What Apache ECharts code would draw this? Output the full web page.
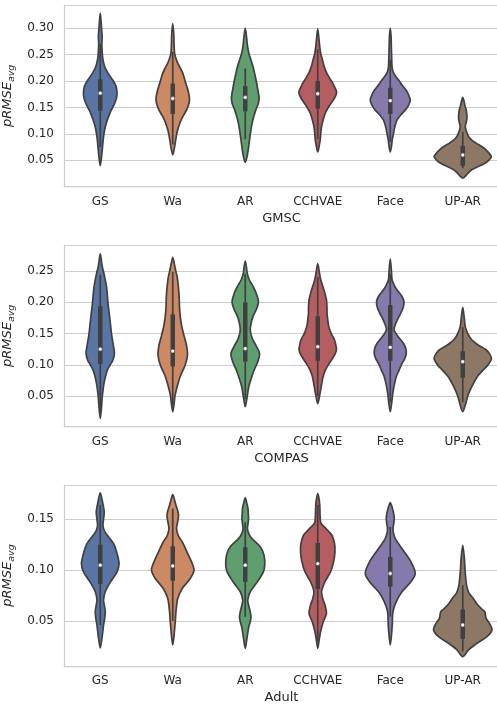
<!DOCTYPE html>
<html><head><meta charset="utf-8">
<script src="https://cdn.jsdelivr.net/npm/echarts@6/dist/echarts.min.js"></script>
<style>html,body{margin:0;padding:0;background:#fff}#c{width:497px;height:704px}</style>
</head><body><div id="c"></div>
<script>
// ---------------- DATA ----------------
const categories = ['GS', 'Wa', 'AR', 'CCHVAE', 'Face', 'UP-AR'];
const panelNames = ['GMSC', 'COMPAS', 'Adult'];
const yRanges = [[0, 0.344], [0.001, 0.2916], [0.0058, 0.1837]];

// Violin density profiles: [value, density] from bottom tip to top tip
const gmscGS = [[0.040,0],[0.055,1.2],[0.076,2.3],[0.090,3],[0.101,3.8],[0.113,5],[0.126,7],[0.136,9],[0.145,11],[0.158,14.5],[0.170,16.5],[0.180,16.7],[0.190,15.8],[0.202,12.5],[0.214,8],[0.227,4.5],[0.243,2.5],[0.259,1.8],[0.272,1.6],[0.285,1.9],[0.300,1.3],[0.315,0.7],[0.328,0]];
const gmscWa = [[0.060,0],[0.075,1.8],[0.089,3],[0.098,3.8],[0.107,4.8],[0.116,6.3],[0.126,8.3],[0.136,11],[0.145,13.7],[0.155,15.8],[0.164,16.7],[0.172,16.4],[0.184,15],[0.196,13],[0.206,11.5],[0.215,10],[0.225,7.5],[0.234,5],[0.245,2.8],[0.253,1.8],[0.270,1.3],[0.290,1],[0.309,0]];
const gmscAR = [[0.046,0],[0.057,1.8],[0.070,3],[0.089,4.3],[0.105,5.5],[0.120,6.8],[0.133,8.5],[0.145,10.5],[0.157,13],[0.167,13.8],[0.177,13.2],[0.190,12],[0.202,10.8],[0.215,9.3],[0.227,7.8],[0.238,6],[0.250,4],[0.260,2.8],[0.270,2],[0.280,1.5],[0.290,0.9],[0.300,0]];
const gmscCCHVAE = [[0.066,0],[0.078,1.5],[0.089,2.5],[0.101,3],[0.114,3.8],[0.126,5.3],[0.139,7.5],[0.150,10.5],[0.158,13.3],[0.167,16.5],[0.177,18.8],[0.183,18.3],[0.190,16.5],[0.196,15],[0.205,12],[0.215,9],[0.227,6.5],[0.240,4.7],[0.252,3],[0.265,2],[0.280,1.2],[0.299,0]];
const gmscFace = [[0.066,0],[0.078,1.3],[0.089,2],[0.101,3.3],[0.113,4.5],[0.126,6.7],[0.136,10.5],[0.145,15],[0.155,18.5],[0.164,20],[0.173,18.5],[0.183,15.8],[0.192,12],[0.202,8.3],[0.210,5],[0.218,2.7],[0.227,1.8],[0.245,1.4],[0.265,1.1],[0.285,0.8],[0.300,0]];
const gmscUPAR = [[0.016,0],[0.024,4.5],[0.032,9],[0.044,21.7],[0.050,26],[0.057,28.7],[0.064,26],[0.070,23],[0.076,19],[0.083,13],[0.089,8.5],[0.095,5.8],[0.104,3.8],[0.114,2.5],[0.122,3.5],[0.130,4.2],[0.138,4],[0.145,3.5],[0.155,2],[0.164,1],[0.169,0]];

const compasGS = [[0.014,0],[0.028,1],[0.049,2],[0.060,2.8],[0.070,3.7],[0.081,5.2],[0.092,7.3],[0.100,10],[0.107,12.5],[0.118,14.2],[0.132,13],[0.150,11.2],[0.172,9.7],[0.198,7.8],[0.225,6.2],[0.246,3.7],[0.255,2.3],[0.262,1.5],[0.278,0]];
const compasWa = [[0.025,0],[0.040,1.5],[0.051,2.3],[0.067,4.7],[0.083,7.8],[0.099,12.3],[0.115,14.7],[0.131,13.8],[0.147,11.2],[0.163,8.8],[0.185,7],[0.212,6.3],[0.238,4.7],[0.250,3],[0.262,1.5],[0.272,0]];
const compasAR = [[0.033,0],[0.045,1.5],[0.055,2.5],[0.065,3.5],[0.078,6],[0.092,9],[0.105,12.5],[0.118,14.3],[0.130,11],[0.142,7],[0.155,5],[0.166,5.8],[0.177,7.7],[0.190,11.5],[0.201,13.2],[0.212,11.5],[0.225,8],[0.236,4],[0.246,2],[0.255,1.3],[0.266,0]];
const compasCCHVAE = [[0.038,0],[0.052,2],[0.070,4],[0.082,5.5],[0.092,7.7],[0.101,11],[0.110,14.7],[0.118,17.5],[0.124,18.7],[0.132,18],[0.140,16.7],[0.150,13.5],[0.161,11],[0.172,10],[0.182,9.3],[0.193,9.2],[0.204,8.7],[0.212,7.5],[0.220,6.2],[0.228,4.5],[0.236,3],[0.246,1.8],[0.262,0]];
const compasFace = [[0.025,0],[0.040,1.5],[0.054,2.5],[0.068,4],[0.081,6],[0.092,9],[0.102,11.7],[0.110,14.5],[0.118,16],[0.126,15.5],[0.134,13.3],[0.145,8],[0.156,3.8],[0.166,5.5],[0.175,8],[0.182,10.3],[0.192,13],[0.201,13.7],[0.210,11.5],[0.220,6.7],[0.228,3.8],[0.236,1.8],[0.250,1.2],[0.269,0]];
const compasUPAR = [[0.025,0],[0.038,3],[0.050,5],[0.060,7.5],[0.071,11],[0.081,14.5],[0.090,19.5],[0.097,23.8],[0.104,27],[0.110,28.7],[0.117,27],[0.124,23.3],[0.132,15],[0.140,9],[0.150,5],[0.161,2.5],[0.175,1.5],[0.192,0]];

const adultGS = [[0.0235,0],[0.033,1.7],[0.046,3.3],[0.053,4.5],[0.059,5],[0.065,4.2],[0.0706,3.3],[0.0788,5],[0.0886,10.3],[0.098,16.7],[0.1065,18.8],[0.118,16.3],[0.126,13.3],[0.134,7.3],[0.139,4],[0.144,2.7],[0.150,3.3],[0.157,4],[0.162,3.3],[0.167,2.3],[0.172,1.2],[0.176,0]];
const adultWa = [[0.0265,0],[0.035,1.2],[0.0493,2.5],[0.0592,3.2],[0.0722,5],[0.082,9.5],[0.0918,17.5],[0.100,21.3],[0.1065,19.5],[0.118,14.2],[0.1278,9.5],[0.134,5.5],[0.1408,3.8],[0.147,4.8],[0.1539,5.8],[0.159,4.8],[0.1637,3.2],[0.169,1.8],[0.1742,0]];
const adultAR = [[0.023,0],[0.033,1.7],[0.043,3.3],[0.053,5.7],[0.059,5],[0.065,3.5],[0.0706,2.5],[0.0788,5],[0.0886,12.2],[0.098,18],[0.105,19.5],[0.115,18.7],[0.123,15],[0.131,6.7],[0.136,3.5],[0.141,2.2],[0.146,2.8],[0.151,3.3],[0.156,3],[0.161,2.7],[0.166,1.5],[0.171,0]];
const adultCCHVAE = [[0.0232,0],[0.032,1.5],[0.0395,2.8],[0.0493,5.5],[0.0575,8.7],[0.0657,7.2],[0.072,5],[0.0788,3.8],[0.0886,7.2],[0.0984,12.8],[0.1082,15.8],[0.118,17.2],[0.1261,16.8],[0.1343,14.2],[0.1408,8.3],[0.145,4],[0.1474,2.8],[0.155,2.3],[0.1637,2],[0.170,1.3],[0.1752,0]];
const adultFace = [[0.0265,0],[0.036,1.2],[0.0461,2],[0.0592,2.7],[0.069,6],[0.0788,11.7],[0.0886,20.7],[0.0967,25],[0.1082,20.7],[0.1212,11.7],[0.131,5],[0.136,3.3],[0.1408,2.7],[0.146,3.5],[0.1507,4],[0.155,3.5],[0.1588,2.7],[0.163,1.5],[0.1663,0]];
const adultUPAR = [[0.015,0],[0.0216,5.8],[0.0281,14.2],[0.0346,24.2],[0.0412,29.2],[0.0477,26.7],[0.0526,23.3],[0.0592,22],[0.0624,18.3],[0.067,14],[0.0722,10.5],[0.078,6],[0.0853,3.8],[0.094,2.8],[0.1016,2.2],[0.113,1.5],[0.1245,0]];

// Inner box stats: [lower whisker, q1, median, q3, upper whisker]
const gmscBox = [[0.075,0.148,0.177,0.199,0.270],[0.080,0.142,0.167,0.191,0.255],[0.090,0.147,0.169,0.186,0.224],[0.090,0.152,0.176,0.196,0.260],[0.085,0.142,0.163,0.183,0.240],[0.035,0.044,0.060,0.073,0.104]];
const compasBox = [[0.025,0.105,0.125,0.190,0.244],[0.035,0.101,0.122,0.177,0.249],[0.045,0.109,0.126,0.196,0.245],[0.050,0.110,0.129,0.174,0.240],[0.040,0.110,0.128,0.192,0.245],[0.040,0.083,0.105,0.118,0.160]];
const adultBox = [[0.046,0.0886,0.1049,0.1229,0.164],[0.050,0.0918,0.1042,0.1212,0.1605],[0.0542,0.0908,0.1049,0.1203,0.147],[0.030,0.0837,0.1065,0.1245,0.164],[0.0543,0.0859,0.0967,0.1108,0.1425],[0.020,0.0346,0.0461,0.0592,0.0853]];

const panelProfiles = [
  [gmscGS, gmscWa, gmscAR, gmscCCHVAE, gmscFace, gmscUPAR],
  [compasGS, compasWa, compasAR, compasCCHVAE, compasFace, compasUPAR],
  [adultGS, adultWa, adultAR, adultCCHVAE, adultFace, adultUPAR]
];
const panelBoxes = [gmscBox, compasBox, adultBox];

// ---------------- STYLE ----------------
const FONT = 'DejaVu Sans';
const TEXT = '#262626';
const GRIDC = '#cccccc';
const EDGE = '#404040';
const palette = ['#5975a4', '#cc8963', '#5f9e6e', '#b55d60', '#857aab', '#8d7866'];
const DENSITY_PER_BAND = 72.5;
const gridTops = [5, 245, 485];
const gridHeights = [181.7, 181.7, 181];

const chart = echarts.init(document.getElementById('c'), null, {renderer: 'canvas'});

const grids = [], xAxes = [], yAxes = [], series = [];
for (let p = 0; p < 3; p++) {
  grids.push({left: 64, top: gridTops[p], width: 435, height: gridHeights[p], containLabel: false, outerBoundsMode: 'none'});
  xAxes.push({
    type: 'category', gridIndex: p, data: categories, boundaryGap: true,
    axisLine: {show: true, lineStyle: {color: GRIDC, width: 1.25}},
    axisTick: {show: false}, splitLine: {show: false},
    axisLabel: {color: TEXT, fontSize: 12, fontFamily: FONT, margin: 9},
    name: panelNames[p], nameLocation: 'middle', nameGap: 25,
    nameTextStyle: {color: TEXT, fontSize: 13, fontFamily: FONT}
  });
  yAxes.push({
    type: 'value', gridIndex: p, min: yRanges[p][0], max: yRanges[p][1],
    splitNumber: 6, minInterval: 0.05, maxInterval: 0.05,
    axisLine: {show: true, lineStyle: {color: GRIDC, width: 1.25}},
    axisTick: {show: false},
    splitLine: {show: true, lineStyle: {color: GRIDC, width: 1}},
    axisLabel: {showMinLabel: false, showMaxLabel: false, color: TEXT, fontSize: 12, fontFamily: FONT, margin: 10,
      formatter: v => v.toFixed(2)},
    name: '{m|pRMSE}{s|avg}', nameLocation: 'middle', nameRotate: 90, nameGap: 41,
    nameTextStyle: {rich: {
      m: {fontStyle: 'italic', fontSize: 13, fontFamily: FONT, color: TEXT, lineHeight: 18, verticalAlign: 'middle'},
      s: {fontStyle: 'italic', fontSize: 9.5, fontFamily: FONT, color: TEXT, lineHeight: 18, verticalAlign: 'bottom'}
    }}
  });
  const profiles = panelProfiles[p];
  const boxes = panelBoxes[p];
  series.push({
    type: 'custom', xAxisIndex: p, yAxisIndex: p, clip: false,
    data: categories.map((c, i) => [i, boxes[i][2]]),
    encode: {x: 0, y: 1},
    renderItem: (params, api) => {
      const i = api.value(0);
      const prof = profiles[i];
      const b = boxes[i];
      const cx = api.coord([i, b[2]])[0];
      const k = api.size([1, 0])[0] / DENSITY_PER_BAND;
      const y = v => api.coord([i, v])[1];
      const right = prof.map(q => [cx + q[1] * k, y(q[0])]);
      const left = prof.slice(1, -1).reverse().map(q => [cx - q[1] * k, y(q[0])]);
      return {type: 'group', children: [
        {type: 'polygon', shape: {points: right.concat(left), smooth: 0.3},
          style: {fill: palette[i], stroke: EDGE, lineWidth: 1.7, lineJoin: 'round'}},
        {type: 'line', shape: {x1: cx, y1: y(b[0]), x2: cx, y2: y(b[4])},
          style: {stroke: EDGE, lineWidth: 1.7}},
        {type: 'line', shape: {x1: cx, y1: y(b[1]), x2: cx, y2: y(b[3])},
          style: {stroke: EDGE, lineWidth: 4.5, lineCap: 'square'}},
        {type: 'circle', shape: {cx: cx, cy: y(b[2]), r: 1.9},
          style: {fill: '#ffffff', stroke: EDGE, lineWidth: 0.4}}
      ]};
    }
  });
}

chart.setOption({
  animation: false,
  backgroundColor: '#ffffff',
  grid: grids, xAxis: xAxes, yAxis: yAxes, series: series
});
</script></body></html>
